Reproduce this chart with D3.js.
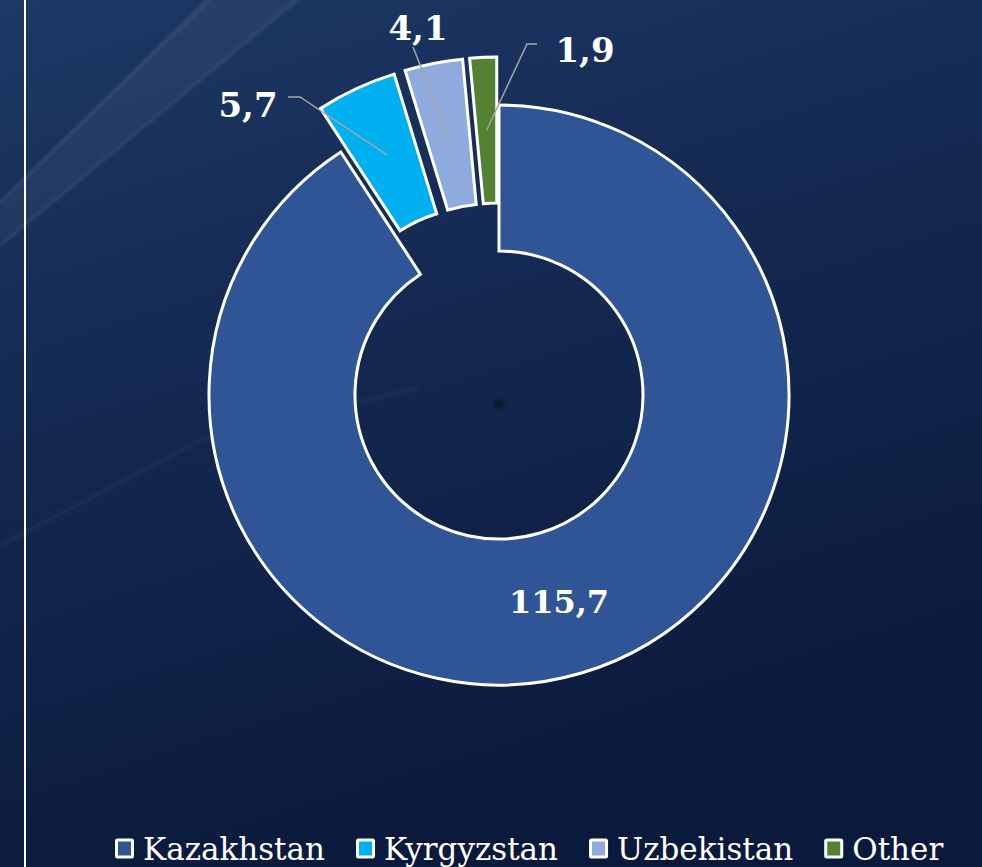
<!DOCTYPE html>
<html>
<head>
<meta charset="utf-8">
<script src="https://cdn.jsdelivr.net/npm/d3@7"></script>
<style>
  html, body { margin: 0; padding: 0; background: #10224a; }
  svg { display: block; }
</style>
</head>
<body>
<svg id="chart" width="982" height="867"></svg>
<script>
// Data
const countries = ['Kazakhstan', 'Kyrgyzstan', 'Uzbekistan', 'Other']
const values = [115.7, 5.7, 4.1, 1.9]
const valueLabels = ['115,7', '5,7', '4,1', '1,9']
const colors = ['#2f5597', '#00b0f0', '#8faadc', '#548235']
const exploded = [false, true, true, true]

const width = 982
const height = 867
const cx = 499
const cy = 395
const outerR = 290
const innerR = 144
const explode = 48

const svg = d3.select('#chart')

// Background
const defs = svg.append('defs')
const bg = defs.append('linearGradient')
  .attr('id', 'bg')
  .attr('x1', 0).attr('y1', 0).attr('x2', 0.35).attr('y2', 1)
bg.append('stop').attr('offset', 0).attr('stop-color', '#1d3966')
bg.append('stop').attr('offset', 0.4).attr('stop-color', '#152a53')
bg.append('stop').attr('offset', 1).attr('stop-color', '#0b1a3c')

const dot = defs.append('radialGradient').attr('id', 'dot')
dot.append('stop').attr('offset', 0).attr('stop-color', '#0a1428').attr('stop-opacity', 0.9)
dot.append('stop').attr('offset', 1).attr('stop-color', '#0a1428').attr('stop-opacity', 0)

const blur = defs.append('filter').attr('id', 'soft')
blur.append('feGaussianBlur').attr('stdDeviation', 1.2)

svg.append('rect')
  .attr('width', width)
  .attr('height', height)
  .attr('fill', 'url(#bg)')

// faint diagonal streaks of the slide background
const streaks = [
  { pts: [[0, 248], [0, 200], [205, 0], [300, 0]], o: 0.045 },
  { pts: [[0, 205], [0, 200], [205, 0], [212, 0]], o: 0.05 },
  { pts: [[0, 248], [0, 243], [293, 0], [300, 0]], o: 0.04 },
  { pts: [[0, 548], [0, 543], [200, 438], [420, 385], [420, 389], [200, 443]], o: 0.03 }
]
svg.append('g')
  .attr('filter', 'url(#soft)')
  .selectAll('path')
  .data(streaks)
  .join('path')
  .attr('d', d => d3.line()(d.pts) + 'Z')
  .attr('fill', '#ffffff')
  .attr('fill-opacity', d => d.o)

// left rule
svg.append('line')
  .attr('x1', 25).attr('x2', 25)
  .attr('y1', 0).attr('y2', height)
  .attr('stroke', '#ffffff')
  .attr('stroke-width', 2)

// small dark spot in the middle of the background
svg.append('circle')
  .attr('cx', cx).attr('cy', cy + 9)
  .attr('r', 8)
  .attr('fill', 'url(#dot)')

// Doughnut
const pie = d3.pie().sort(null).value(d => d)
const arcs = pie(values)
const arc = d3.arc().innerRadius(innerR).outerRadius(outerR)

function offset (d, i) {
  if (!exploded[i]) return [0, 0]
  const a = (d.startAngle + d.endAngle) / 2
  return [Math.sin(a) * explode, -Math.cos(a) * explode]
}

const g = svg.append('g')
  .attr('transform', `translate(${cx},${cy})`)

g.selectAll('path.slice')
  .data(arcs)
  .join('path')
  .attr('class', 'slice')
  .attr('transform', (d, i) => {
    const o = offset(d, i)
    return `translate(${o[0]},${o[1]})`
  })
  .attr('d', arc)
  .attr('fill', (d, i) => colors[i])
  .attr('stroke', '#ffffff')
  .attr('stroke-width', 3)
  .attr('stroke-linejoin', 'miter')

// Label layout (relative to chart centre)
const labelLayout = [
  null,
  { tx: -251, ty: -278, path: [[-199, -298], [-211, -298]] },
  { tx: -81, ty: -355, path: [[-86, -348]] },
  { tx: 86, ty: -333, path: [[28, -351], [38, -351]] }
]

const leaders = g.append('g')
arcs.forEach((d, i) => {
  const L = labelLayout[i]
  if (!L) return
  const o = offset(d, i)
  const c = arc.centroid(d)
  const start = [c[0] + o[0], c[1] + o[1]]
  leaders.append('path')
    .attr('d', d3.line()([start].concat(L.path)))
    .attr('fill', 'none')
    .attr('stroke', '#a6a6a6')
    .attr('stroke-width', 1.5)
})

const labelFont = '"DejaVu Serif", "Liberation Serif", serif'

g.append('g').selectAll('text')
  .data(arcs.filter((d, i) => labelLayout[i]))
  .join('text')
  .attr('x', d => labelLayout[d.index].tx)
  .attr('y', d => labelLayout[d.index].ty)
  .attr('text-anchor', 'middle')
  .attr('font-family', labelFont)
  .attr('font-weight', 'bold')
  .attr('font-size', 34)
  .attr('fill', '#ffffff')
  .text(d => valueLabels[d.index])

// big slice label, inside the ring
g.append('text')
  .attr('x', 60)
  .attr('y', 218)
  .attr('text-anchor', 'middle')
  .attr('font-family', labelFont)
  .attr('font-weight', 'bold')
  .attr('font-size', 32)
  .attr('fill', '#ffffff')
  .text(valueLabels[0])

// Legend
const legend = svg.append('g')
  .attr('transform', 'translate(115, 849)')

let lx = 0
countries.forEach((name, i) => {
  const item = legend.append('g')
    .attr('transform', `translate(${lx},0)`)
  item.append('rect')
    .attr('x', 1.5).attr('y', -9)
    .attr('width', 16).attr('height', 17)
    .attr('fill', colors[i])
    .attr('stroke', '#ffffff')
    .attr('stroke-width', 3)
    .attr('rx', 1)
  const t = item.append('text')
    .attr('x', 28)
    .attr('y', 11)
    .attr('font-family', labelFont)
    .attr('font-size', 31)
    .attr('fill', '#ffffff')
    .text(name)
  lx += 28 + t.node().getComputedTextLength() + 31
})
</script>
</body>
</html>
